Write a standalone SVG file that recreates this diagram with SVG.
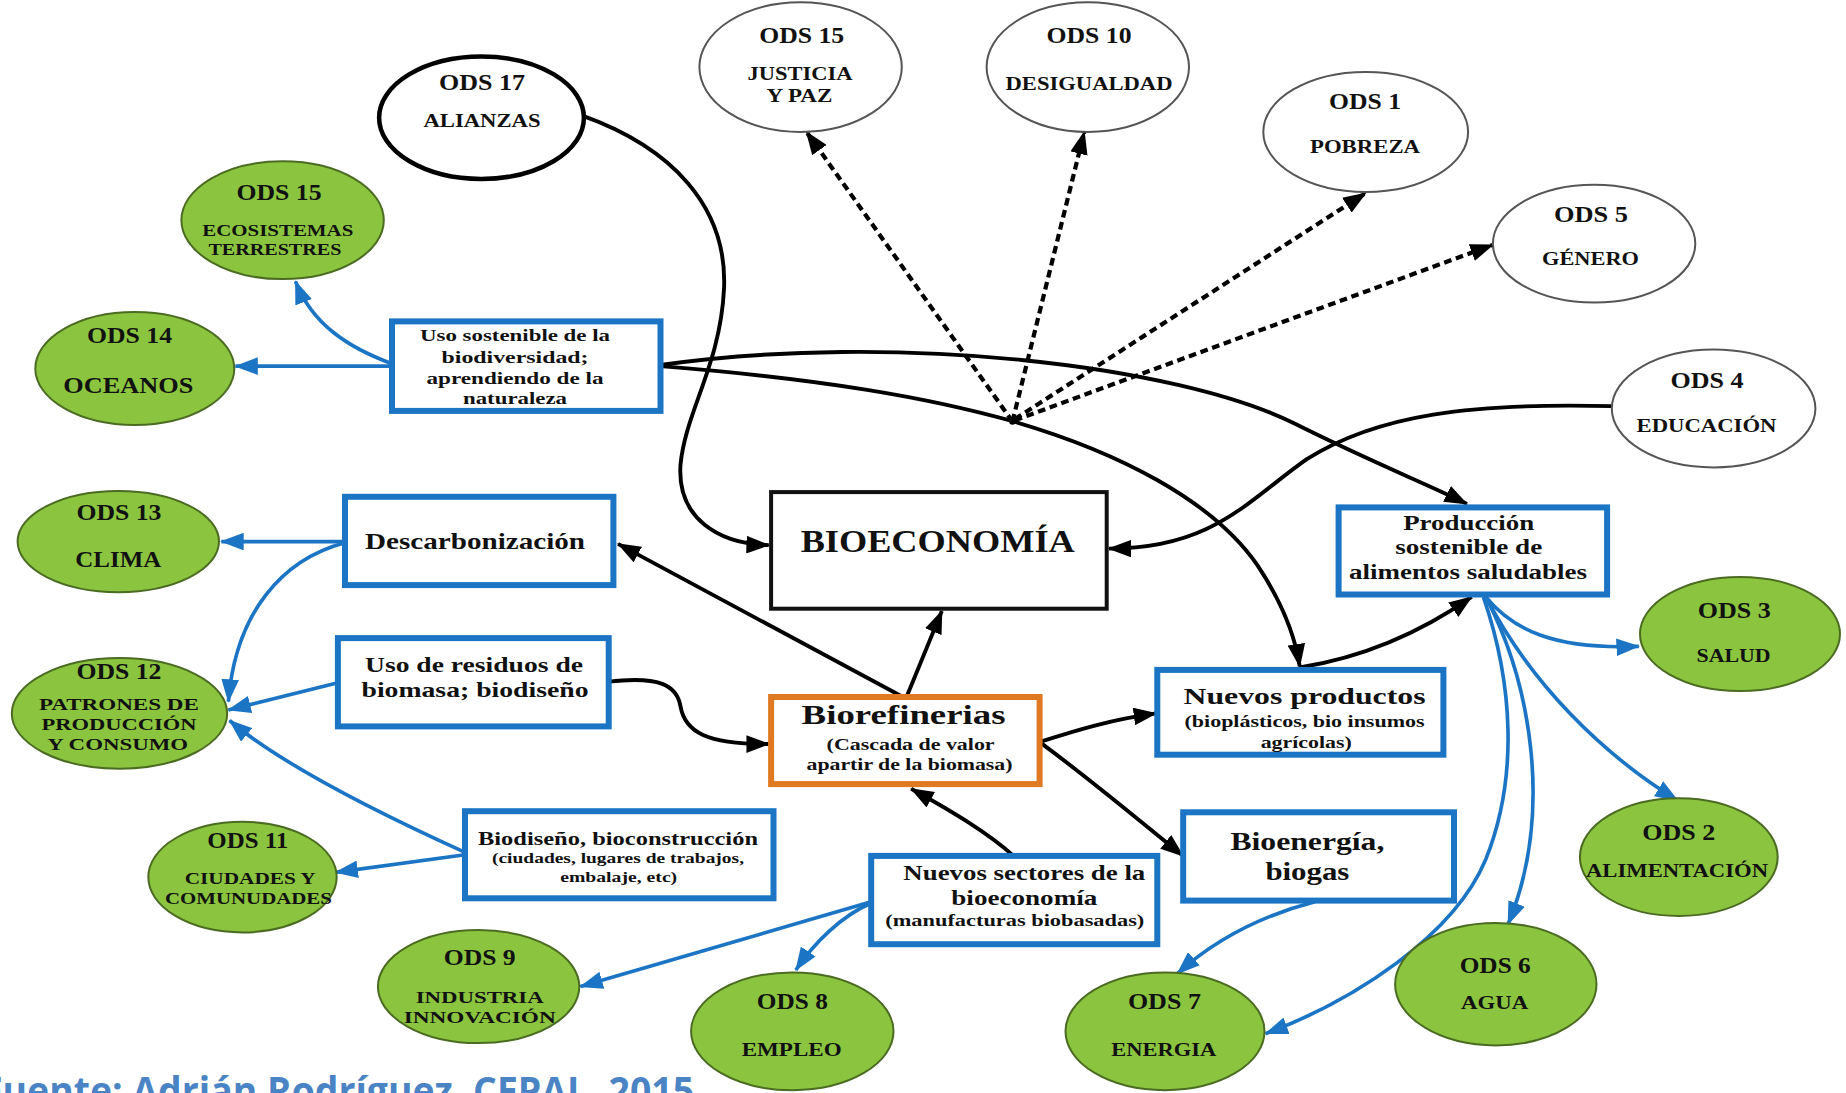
<svg xmlns="http://www.w3.org/2000/svg" width="1846" height="1093" viewBox="0 0 1846 1093">
<style>
.t{font-family:"Liberation Serif","Times New Roman",serif;font-weight:bold;fill:#111;text-anchor:middle}
.ods{font-size:23px}
.s18{font-size:18px}.s17{font-size:17px}.s16{font-size:16px}.s15{font-size:15px}
.s19{font-size:19px}.s20{font-size:20px}.s22{font-size:22px}.s23{font-size:23px}.s24{font-size:24px}.s25{font-size:25px}.s27{font-size:27px}.s31{font-size:31px}
.g{fill:#8BC53F;stroke:#4B6B22;stroke-width:2}
.w{fill:#fff;stroke:#555;stroke-width:2}
.wk{fill:#fff;stroke:#000;stroke-width:4.5}
.bb{fill:#fff;stroke:#1B75C4;stroke-width:6}
.ob{fill:#fff;stroke:#E07A22;stroke-width:6}
.kb{fill:#fff;stroke:#111;stroke-width:4}
.ck{fill:none;stroke:#000;stroke-width:3.3}
.cd{fill:none;stroke:#000;stroke-width:3.6;stroke-dasharray:6.5 4}
.cb{fill:none;stroke:#1B75C4;stroke-width:3.1}
.cap{font-family:"Open Sans","Liberation Sans",sans-serif;font-weight:bold;font-size:40px;fill:#4A84C4}
</style>
<defs>
<marker id="ak" viewBox="0 0 20 15" refX="19" refY="7.5" markerWidth="20" markerHeight="15" markerUnits="userSpaceOnUse" orient="auto"><path d="M0,0 L20,7.5 L0,15 z" fill="#000"/></marker>
<marker id="ab" viewBox="0 0 20 15" refX="19" refY="7.5" markerWidth="20" markerHeight="15" markerUnits="userSpaceOnUse" orient="auto"><path d="M0,0 L20,7.5 L0,15 z" fill="#1B75C4"/></marker>
</defs>
<rect width="1846" height="1093" fill="#fff"/>

<g id="connectors" transform="scale(1.1773)">
<path class="ck" marker-end="url(#ak)" d="M494,98 C570,125 618,175 615,245 C612,310 582,350 578,395 C575,440 610,462 653,463"/>
<path class="ck" marker-end="url(#ak)" d="M561,310 C760,282 1000,310 1100,360 C1170,395 1210,410 1246,428"/>
<path class="ck" marker-end="url(#ak)" d="M561,311 C700,322 790,338 861,358 C950,384 1030,425 1068,480 C1088,510 1100,540 1104,566"/>
<path class="ck" marker-end="url(#ak)" d="M1369,345 C1250,342 1170,352 1110,390 C1060,425 1030,466 942,466"/>
<path class="ck" marker-end="url(#ak)" d="M770,592 L800,519"/>
<path class="ck" marker-end="url(#ak)" d="M765,591 L525,462"/>
<path class="ck" marker-end="url(#ak)" d="M517,579 C560,574 575,582 578,600 C582,622 600,632 653,632"/>
<path class="ck" marker-end="url(#ak)" d="M884,630 C915,620 945,611 982,606"/>
<path class="ck" marker-end="url(#ak)" d="M884,631 C930,665 965,695 1005,727"/>
<path class="ck" marker-end="url(#ak)" d="M862,728 C840,708 810,690 774,670"/>
<path class="ck" marker-end="url(#ak)" d="M1104,567 C1160,558 1210,535 1250,507"/>
<path class="cd" marker-end="url(#ak)" d="M860,358 L685,112"/>
<path class="cd" marker-end="url(#ak)" d="M860,358 L921,112"/>
<path class="cd" marker-end="url(#ak)" d="M862,356 L1160,164"/>
<path class="cd" marker-end="url(#ak)" d="M862,357 L1268,208"/>
<circle cx="860" cy="358" r="2.8" fill="#000"/>
<path class="cb" marker-end="url(#ab)" d="M333,309 C295,295 265,275 251,239"/>
<path class="cb" marker-end="url(#ab)" d="M333,311 L200,311"/>
<path class="cb" marker-end="url(#ab)" d="M293,460 L188,460"/>
<path class="cb" marker-end="url(#ab)" d="M293,461 C240,475 200,520 194,596"/>
<path class="cb" marker-end="url(#ab)" d="M287,580 L194,603"/>
<path class="cb" marker-end="url(#ab)" d="M395,724 C320,690 240,650 195,612"/>
<path class="cb" marker-end="url(#ab)" d="M395,726 L285,741"/>
<path class="cb" marker-end="url(#ab)" d="M740,766 L493,838"/>
<path class="cb" marker-end="url(#ab)" d="M740,767 C715,778 692,800 676,824"/>
<path class="cb" marker-end="url(#ab)" d="M1117,766 C1070,778 1030,800 1000,827"/>
<path class="cb" marker-end="url(#ab)" d="M1262,507 C1285,535 1320,552 1392,549"/>
<path class="cb" marker-end="url(#ab)" d="M1262,507 C1300,580 1360,640 1425,680"/>
<path class="cb" marker-end="url(#ab)" d="M1262,507 C1300,580 1320,690 1281,785"/>
<path class="cb" marker-end="url(#ab)" d="M1260,507 C1285,580 1290,660 1262,730 C1235,795 1150,850 1075,878"/>
</g>

<g id="ods17"><ellipse class="wk" cx="481.5" cy="117.7" rx="102.4" ry="61.2"/>
<text class="t ods" x="482" y="90.2" textLength="86" lengthAdjust="spacingAndGlyphs">ODS 17</text>
<text class="t s18" x="482" y="127.4" textLength="117" lengthAdjust="spacingAndGlyphs">ALIANZAS</text></g>

<g id="ods15j"><ellipse class="w" cx="800.6" cy="67.1" rx="101.2" ry="64.8"/>
<text class="t ods" x="801.7" y="43.1" textLength="85" lengthAdjust="spacingAndGlyphs">ODS 15</text>
<text class="t s18" x="800" y="80.3" textLength="105" lengthAdjust="spacingAndGlyphs">JUSTICIA</text>
<text class="t s18" x="799.4" y="101.5" textLength="66" lengthAdjust="spacingAndGlyphs">Y PAZ</text></g>

<g id="ods10"><ellipse class="w" cx="1087.8" cy="67.1" rx="101.2" ry="64.8"/>
<text class="t ods" x="1089" y="43.1" textLength="85" lengthAdjust="spacingAndGlyphs">ODS 10</text>
<text class="t s18" x="1089" y="89.7" textLength="167" lengthAdjust="spacingAndGlyphs">DESIGUALDAD</text></g>

<g id="ods1"><ellipse class="w" cx="1365.7" cy="131.9" rx="102.4" ry="60"/>
<text class="t ods" x="1365" y="109" textLength="72" lengthAdjust="spacingAndGlyphs">ODS 1</text>
<text class="t s18" x="1365" y="153.3" textLength="110" lengthAdjust="spacingAndGlyphs">POBREZA</text></g>

<g id="ods5"><ellipse class="w" cx="1594.1" cy="243.7" rx="101.2" ry="58.9"/>
<text class="t ods" x="1591" y="222.1" textLength="74" lengthAdjust="spacingAndGlyphs">ODS 5</text>
<text class="t s18" x="1590.5" y="265.1" textLength="97" lengthAdjust="spacingAndGlyphs">GÉNERO</text></g>

<g id="ods4"><ellipse class="w" cx="1713.6" cy="408.5" rx="101.8" ry="58.9"/>
<text class="t ods" x="1707" y="388.1" textLength="73" lengthAdjust="spacingAndGlyphs">ODS 4</text>
<text class="t s18" x="1706.5" y="432.3" textLength="140" lengthAdjust="spacingAndGlyphs">EDUCACIÓN</text></g>

<g id="ods15e"><ellipse class="g" cx="282.6" cy="220.2" rx="101.2" ry="58.9"/>
<text class="t ods" x="279" y="199.7" textLength="85" lengthAdjust="spacingAndGlyphs">ODS 15</text>
<text class="t s16" x="277.8" y="236.2" textLength="151" lengthAdjust="spacingAndGlyphs">ECOSISTEMAS</text>
<text class="t s16" x="274.9" y="255" textLength="133" lengthAdjust="spacingAndGlyphs">TERRESTRES</text></g>

<g id="ods14"><ellipse class="g" cx="134.8" cy="368.5" rx="99.5" ry="56.5"/>
<text class="t ods" x="129.5" y="343.3" textLength="85" lengthAdjust="spacingAndGlyphs">ODS 14</text>
<text class="t s23" x="128.3" y="392.8" textLength="130" lengthAdjust="spacingAndGlyphs">OCEANOS</text></g>

<g id="ods13"><ellipse class="g" cx="118.3" cy="541.6" rx="100.7" ry="50.6"/>
<text class="t ods" x="118.9" y="519.9" textLength="85" lengthAdjust="spacingAndGlyphs">ODS 13</text>
<text class="t s23" x="118.3" y="567" textLength="86" lengthAdjust="spacingAndGlyphs">CLIMA</text></g>

<g id="ods12"><ellipse class="g" cx="119.5" cy="713.4" rx="107.7" ry="55.3"/>
<text class="t ods" x="118.9" y="678.9" textLength="85" lengthAdjust="spacingAndGlyphs">ODS 12</text>
<text class="t s17" x="118.9" y="709.8" textLength="160" lengthAdjust="spacingAndGlyphs">PATRONES DE</text>
<text class="t s17" x="118.9" y="729.8" textLength="155" lengthAdjust="spacingAndGlyphs">PRODUCCIÓN</text>
<text class="t s17" x="117.7" y="749.9" textLength="141" lengthAdjust="spacingAndGlyphs">Y CONSUMO</text></g>

<g id="ods11"><ellipse class="g" cx="242.5" cy="877.1" rx="94.2" ry="55.3"/>
<text class="t ods" x="247.8" y="848.4" textLength="81" lengthAdjust="spacingAndGlyphs">ODS 11</text>
<text class="t s17" x="250.2" y="884.1" textLength="131" lengthAdjust="spacingAndGlyphs">CIUDADES Y</text>
<text class="t s17" x="248.4" y="904.1" textLength="167" lengthAdjust="spacingAndGlyphs">COMUNUDADES</text></g>

<g id="ods9"><ellipse class="g" cx="478.6" cy="986.6" rx="100.7" ry="56.5"/>
<text class="t ods" x="479.7" y="964.9" textLength="72" lengthAdjust="spacingAndGlyphs">ODS 9</text>
<text class="t s17" x="479.7" y="1003" textLength="128" lengthAdjust="spacingAndGlyphs">INDUSTRIA</text>
<text class="t s17" x="479.7" y="1023" textLength="152" lengthAdjust="spacingAndGlyphs">INNOVACIÓN</text></g>

<g id="ods8"><ellipse class="g" cx="792.3" cy="1031.3" rx="101.2" ry="58.9"/>
<text class="t ods" x="792.3" y="1008.5" textLength="71" lengthAdjust="spacingAndGlyphs">ODS 8</text>
<text class="t s18" x="791.7" y="1056.3" textLength="100" lengthAdjust="spacingAndGlyphs">EMPLEO</text></g>

<g id="ods7"><ellipse class="g" cx="1165" cy="1031.3" rx="99.5" ry="58.9"/>
<text class="t ods" x="1164.4" y="1008.5" textLength="73" lengthAdjust="spacingAndGlyphs">ODS 7</text>
<text class="t s18" x="1163.8" y="1056.3" textLength="105" lengthAdjust="spacingAndGlyphs">ENERGIA</text></g>

<g id="ods6"><ellipse class="g" cx="1495.8" cy="984.2" rx="100.7" ry="61.2"/>
<text class="t ods" x="1495.2" y="973.2" textLength="71" lengthAdjust="spacingAndGlyphs">ODS 6</text>
<text class="t s18" x="1494.6" y="1009.2" textLength="67" lengthAdjust="spacingAndGlyphs">AGUA</text></g>

<g id="ods2"><ellipse class="g" cx="1678.8" cy="857.1" rx="98.9" ry="58.9"/>
<text class="t ods" x="1678.8" y="840.2" textLength="73" lengthAdjust="spacingAndGlyphs">ODS 2</text>
<text class="t s18" x="1677" y="877.3" textLength="182" lengthAdjust="spacingAndGlyphs">ALIMENTACIÓN</text></g>

<g id="ods3"><ellipse class="g" cx="1740" cy="634" rx="100" ry="57.1"/>
<text class="t ods" x="1734.2" y="617.6" textLength="73" lengthAdjust="spacingAndGlyphs">ODS 3</text>
<text class="t s18" x="1733.6" y="661.9" textLength="74" lengthAdjust="spacingAndGlyphs">SALUD</text></g>

<g id="uso-sostenible"><rect class="bb" x="392" y="321.4" width="268.5" height="89.5"/>
<text class="t s17" x="515" y="341.3" textLength="190" lengthAdjust="spacingAndGlyphs">Uso sostenible de la</text>
<text class="t s17" x="515" y="362.5" textLength="147" lengthAdjust="spacingAndGlyphs">biodiversidad;</text>
<text class="t s17" x="515" y="383.7" textLength="177" lengthAdjust="spacingAndGlyphs">aprendiendo de la</text>
<text class="t s17" x="515" y="403.7" textLength="104" lengthAdjust="spacingAndGlyphs">naturaleza</text></g>

<g id="descarbonizacion"><rect class="bb" x="345" y="496.8" width="268.4" height="88.3"/>
<text class="t s24" x="475" y="548.6" textLength="220" lengthAdjust="spacingAndGlyphs">Descarbonización</text></g>

<g id="uso-residuos"><rect class="bb" x="337.9" y="638.1" width="270.8" height="88.3"/>
<text class="t s22" x="474" y="671.5" textLength="218" lengthAdjust="spacingAndGlyphs">Uso de residuos de</text>
<text class="t s22" x="475" y="697.4" textLength="227" lengthAdjust="spacingAndGlyphs">biomasa; biodiseño</text></g>

<g id="biodiseno"><rect class="bb" x="465" y="811.2" width="308.5" height="87.1"/>
<text class="t s19" x="618" y="844.7" textLength="280" lengthAdjust="spacingAndGlyphs">Biodiseño, bioconstrucción</text>
<text class="t s15" x="618" y="863.4" textLength="252" lengthAdjust="spacingAndGlyphs">(ciudades, lugares de trabajos,</text>
<text class="t s15" x="618.7" y="882.2" textLength="117" lengthAdjust="spacingAndGlyphs">embalaje, etc)</text></g>

<g id="bioeconomia"><rect class="kb" x="771.1" y="492.1" width="335.6" height="116.6"/>
<text class="t s31" x="937.7" y="552.1" textLength="274" lengthAdjust="spacingAndGlyphs">BIOECONOMÍA</text></g>

<g id="biorefinerias"><rect class="ob" x="771.1" y="697" width="268.5" height="87.1"/>
<text class="t s27" x="903.6" y="723.8" textLength="204" lengthAdjust="spacingAndGlyphs">Biorefinerias</text>
<text class="t s17" x="910.6" y="749.9" textLength="168" lengthAdjust="spacingAndGlyphs">(Cascada de valor</text>
<text class="t s17" x="909.5" y="769.9" textLength="206" lengthAdjust="spacingAndGlyphs">apartir de la biomasa)</text></g>

<g id="nuevos-sectores"><rect class="bb" x="871.2" y="855.9" width="286.1" height="88.3"/>
<text class="t s22" x="1024.3" y="879.9" textLength="242" lengthAdjust="spacingAndGlyphs">Nuevos sectores de la</text>
<text class="t s22" x="1024.3" y="904.6" textLength="146" lengthAdjust="spacingAndGlyphs">bioeconomía</text>
<text class="t s17" x="1014.8" y="926.4" textLength="259" lengthAdjust="spacingAndGlyphs">(manufacturas biobasadas)</text></g>

<g id="nuevos-productos"><rect class="bb" x="1157.3" y="669.9" width="286.1" height="84.8"/>
<text class="t s24" x="1304.5" y="704" textLength="242" lengthAdjust="spacingAndGlyphs">Nuevos productos</text>
<text class="t s16" x="1304.5" y="727.1" textLength="240" lengthAdjust="spacingAndGlyphs">(bioplásticos, bio insumos</text>
<text class="t s16" x="1306.2" y="748.3" textLength="91" lengthAdjust="spacingAndGlyphs">agrícolas)</text></g>

<g id="bioenergia"><rect class="bb" x="1183.2" y="812.3" width="270.8" height="88.3"/>
<text class="t s25" x="1307.4" y="850.3" textLength="154" lengthAdjust="spacingAndGlyphs">Bioenergía,</text>
<text class="t s25" x="1307.4" y="879.7" textLength="84" lengthAdjust="spacingAndGlyphs">biogas</text></g>

<g id="produccion"><rect class="bb" x="1338.6" y="507.4" width="268.5" height="87.1"/>
<text class="t s20" x="1468.7" y="529.5" textLength="131" lengthAdjust="spacingAndGlyphs">Producción</text>
<text class="t s20" x="1468.7" y="554.2" textLength="147" lengthAdjust="spacingAndGlyphs">sostenible de</text>
<text class="t s20" x="1468" y="579" textLength="238" lengthAdjust="spacingAndGlyphs">alimentos saludables</text></g>

<text class="cap" x="-18" y="1105" textLength="712" lengthAdjust="spacingAndGlyphs">Fuente: Adrián Rodríguez, CEPAL, 2015</text>
</svg>
